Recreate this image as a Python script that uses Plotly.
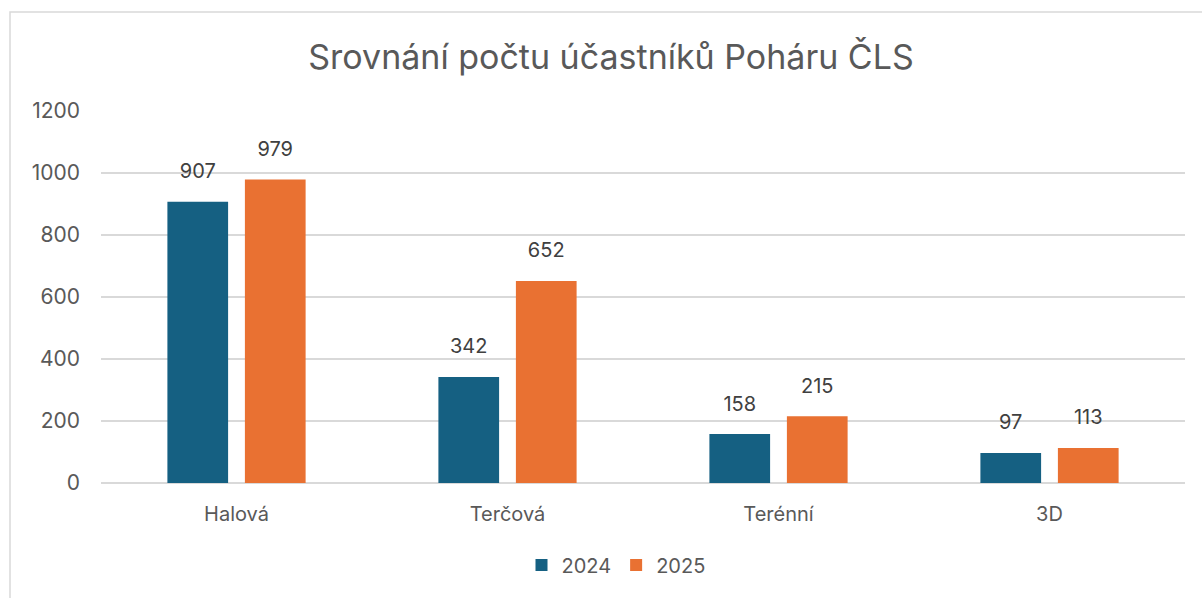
import numpy as np
import plotly.graph_objects as go

categories = ["Halová", "Terčová", "Terénní", "3D"]
series_names = ["2024", "2025"]
values_2024 = [907, 342, 158, 97]
values_2025 = [979, 652, 215, 113]
y_ticks = [0, 200, 400, 600, 800, 1000, 1200]

colors = ["#156082", "#E97132"]
FONT = "Inter"
TXT = "#595959"

W, H = 1202, 598
L, R, T, B = 101, 17, 111, 115
pw, ph = W - L - R, H - T - B

def px_x(p):
    return (p - L) / pw

def px_y(p):
    return (H - B - p) / ph

xpos = np.arange(len(categories))
bar_w = 0.224
offsets = [-0.255, 0.031]

fig = go.Figure()
for name, vals, col, off in zip(series_names, [values_2024, values_2025], colors, offsets):
    fig.add_trace(go.Bar(
        x=xpos, y=vals, name=name, marker=dict(color=col, line=dict(width=0)),
        width=bar_w, offset=off, hoverinfo="skip",
    ))
for name, vals, off in zip(series_names, [values_2024, values_2025], offsets):
    fig.add_trace(go.Scatter(
        x=xpos + off + bar_w / 2, y=vals, mode="markers+text", text=[str(v) for v in vals],
        textposition="top center", marker=dict(size=28, opacity=0),
        textfont=dict(family=FONT, size=20, color="#404040"),
        showlegend=False, hoverinfo="skip", cliponaxis=False,
    ))

fig.update_layout(
    width=W, height=H,
    margin=dict(l=L, r=R, t=T, b=B),
    paper_bgcolor="white", plot_bgcolor="white",
    title=dict(text="Srovnání počtu účastníků Poháru ČLS", x=px_x(611), xref="paper", xanchor="center",
               y=1 - 57 / H, yref="container", yanchor="middle",
               font=dict(family=FONT, size=34, color=TXT)),
    font=dict(family=FONT, color=TXT),
    barmode="overlay",
    showlegend=True,
    legend=dict(orientation="h", x=px_x(616), xanchor="center", y=px_y(565), yanchor="middle",
                font=dict(family=FONT, size=20, color=TXT), itemwidth=30, traceorder="normal"),
    xaxis=dict(range=[-0.5, len(categories) - 0.5], tickvals=xpos, ticktext=categories,
               showgrid=False, zeroline=False, showline=False, ticks="",
               tickfont=dict(family=FONT, size=20, color=TXT), ticklabelstandoff=17),
    yaxis=dict(range=[0, 1200], tickvals=y_ticks, showgrid=True, gridcolor="#D9D9D9", gridwidth=1.5,
               zeroline=True, zerolinecolor="#D9D9D9", zerolinewidth=1.5, showline=False, ticks="",
               tickfont=dict(family=FONT, size=21, color=TXT), ticklabelstandoff=20),
    shapes=[dict(type="rect", xref="paper", yref="paper",
                 x0=px_x(10), x1=px_x(1215), y0=px_y(640), y1=px_y(12),
                 line=dict(color="#D9D9D9", width=1.5), fillcolor="rgba(0,0,0,0)", layer="below")],
)

fig.write_html("out.html")
